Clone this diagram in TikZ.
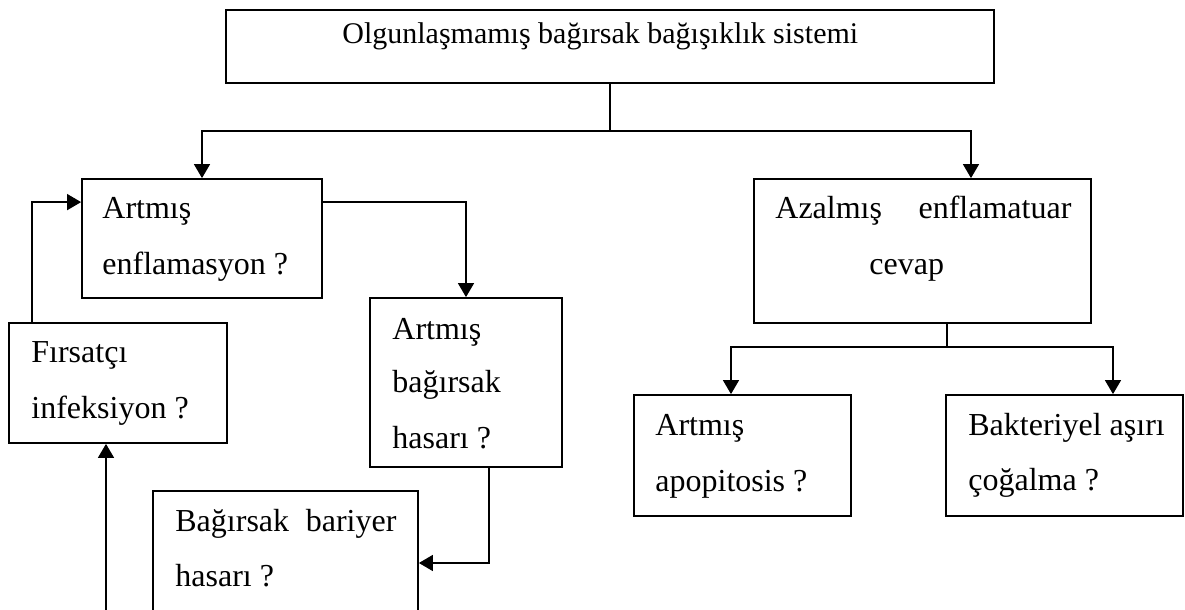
\documentclass[tikz,border=0pt]{standalone}
\usepackage{fontspec}
\setmainfont{Liberation Serif}[Ligatures=NoCommon]
\usetikzlibrary{arrows.meta,calc,fit}
\begin{document}
\begin{tikzpicture}[x=0.5pt,y=-0.5pt,
  box/.style={draw, rectangle, line width=0.9pt, inner sep=0pt},
  conn/.style={line width=0.75pt},
  arr/.style={conn, -{Triangle[length=7pt,width=8pt]}},
  txt/.style={inner sep=0pt, anchor=base west, font=\fontsize{16}{19}\selectfont},
  ttl/.style={inner sep=0pt, anchor=base west, font=\fontsize{15}{18}\selectfont}]
\clip (0,0) rectangle (1185,610);
\fill[white] (0,0) rectangle (1185,610);
% boxes
\node[box, fit={(226,10) (994,83)}] (top) {};
\node[box, fit={(82,179) (322,298)}] (enf) {};
\node[box, fit={(9,323) (227,443)}] (fir) {};
\node[box, fit={(370,298) (562,467)}] (bag) {};
\node[box, fit={(153,491) (418,640)}] (bar) {};
\node[box, fit={(754,179) (1091,323)}] (az) {};
\node[box, fit={(634,395) (851,516)}] (apo) {};
\node[box, fit={(946,395) (1183,516)}] (bak) {};
% texts
\node[ttl] (t1) at (342,44) {Olgunlaşmamış bağırsak bağışıklık sistemi};
\node[txt] (t2) at (102,219) {Artmış};
\node[txt] (t3) at (102,274) {enflamasyon ?};
\node[txt] (t4) at (31,363) {Fırsatçı};
\node[txt] (t5) at (31,418) {infeksiyon ?};
\node[txt] (t6) at (392,339) {Artmış};
\node[txt] (t7) at (392,393) {bağırsak};
\node[txt] (t8) at (392,448) {hasarı ?};
\node[txt] (t9) at (175,531) {\makebox[110.5pt][s]{Bağırsak bariyer}};
\node[txt] (t10) at (175,586) {hasarı ?};
\node[txt] (t11) at (775,219) {\makebox[148pt][s]{Azalmış enflamatuar}};
\node[txt] (t12) at (869,275) {cevap};
\node[txt] (t13) at (655,435) {Artmış};
\node[txt] (t14) at (655,491) {apopitosis ?};
\node[txt] (t15) at (968,435) {Bakteriyel aşırı};
\node[txt] (t16) at (968,490) {çoğalma ?};
% connectors
\coordinate (j1) at (610,131);
\coordinate (j2) at (971,131);
\coordinate (j3) at (947,347);
\coordinate (jl) at (731,347);
\coordinate (jr) at (1113,347);
\coordinate (src) at (106,615);
\draw[conn] (top.south -| j1) -- (j1);
\draw[arr] (j1) -| (enf.north);
\draw[arr] (j1) -- (j2) -- (j2 |- az.north);
\draw[conn] (az.south -| j3) -- (j3);
\draw[arr] (j3) -- (jl) -- (jl |- apo.north);
\draw[arr] (j3) -- (jr) -- (jr |- bak.north);
\draw[arr] ($(fir.north west)+(24,0)$) |- ($(enf.north west)+(0,24)$);
\draw[arr] ($(enf.north east)+(0,24)$) -| (bag.north);
\draw[arr] ($(bag.south west)+(120,0)$) |- (bar.east |- 0,563);
\draw[arr] (src) -- (src |- fir.south);
\end{tikzpicture}
\end{document}
